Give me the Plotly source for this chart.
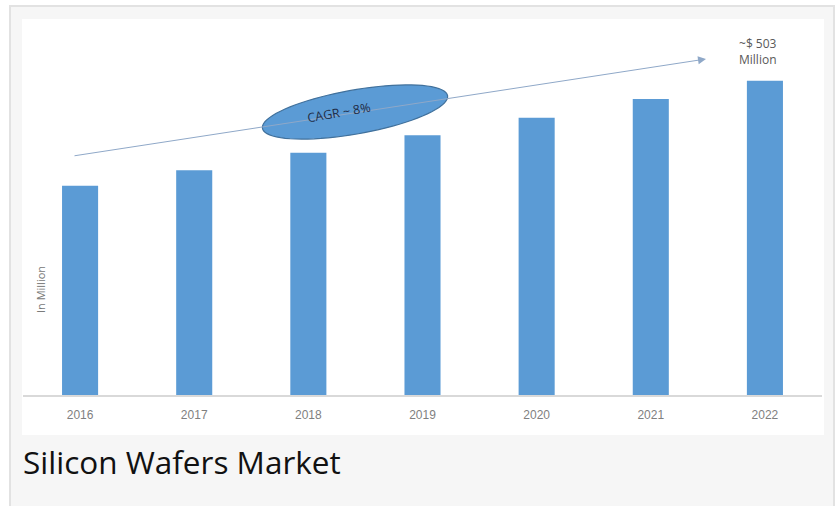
import numpy as np
import plotly.graph_objects as go

years = ["2016", "2017", "2018", "2019", "2020", "2021", "2022"]
values = [335, 360, 388, 416, 444, 474, 503]
y_title = "In Million"
caption = "Silicon Wafers Market"
cagr_label = "CAGR ~ 8%"
end_label = "~$ 503<br>Million"

W, H = 838, 506
ML, MR, MT, MB = 23, 16, 19, 111
PW, PH = W - ML - MR, H - MT - MB


def px(x):
    return (x - ML) / PW


def py(y):
    return (H - MB - y) / PH


fig = go.Figure()
fig.add_trace(go.Bar(x=years, y=values, marker=dict(color="#5b9bd5", line=dict(width=0)),
                     hoverinfo="x+y"))

shapes = []
# outer grey card
shapes.append(dict(type="rect", xref="paper", yref="paper", layer="below",
                   x0=px(10), x1=px(834), y0=py(512), y1=py(6),
                   fillcolor="#f6f6f6", line=dict(color="#e2e2e2", width=2)))
# inner white chart area
shapes.append(dict(type="rect", xref="paper", yref="paper", layer="below",
                   x0=px(22), x1=px(824), y0=py(435), y1=py(19),
                   fillcolor="#ffffff", line=dict(width=0)))

# rotated ellipse (pixel geometry converted to paper coords)
cx, cy, a, b, ang = 355, 112, 94, 22, np.deg2rad(-10)
t = np.linspace(0, 2 * np.pi, 80)
ex = cx + a * np.cos(t) * np.cos(ang) - b * np.sin(t) * np.sin(ang)
ey = cy + a * np.cos(t) * np.sin(ang) + b * np.sin(t) * np.cos(ang)
path = "M " + " L ".join(f"{px(x):.5f},{py(y):.5f}" for x, y in zip(ex, ey)) + " Z"

annotations = []
# arrow
annotations.append(dict(xref="paper", yref="paper", x=px(706), y=py(59),
                        axref="pixel", ayref="pixel", ax=73 - 706, ay=156 - 59,
                        showarrow=True, arrowhead=2, arrowsize=1.6, arrowwidth=1,
                        arrowcolor="#8fa8c8", text=""))
fig.update_layout(shapes=shapes)
fig.add_shape(type="path", path=path, xref="paper", yref="paper",
              fillcolor="#5b9bd5", line=dict(color="#41719c", width=1.2), layer="above")

annotations.append(dict(xref="paper", yref="paper", x=px(339), y=py(112), text=cagr_label,
                        showarrow=False, textangle=-10, xanchor="center", yanchor="middle",
                        font=dict(family="Open Sans", size=12.5, color="#1f2b45")))
annotations.append(dict(xref="paper", yref="paper", x=px(758), y=py(52), text=end_label,
                        showarrow=False, align="center", xanchor="center", yanchor="middle",
                        font=dict(family="Open Sans", size=12, color="#595959")))
annotations.append(dict(xref="paper", yref="paper", x=px(21), y=py(462), text=caption,
                        showarrow=False, xanchor="left", yanchor="middle",
                        font=dict(family="Open Sans", size=31.5, color="#111111")))
annotations.append(dict(xref="paper", yref="paper", x=px(40), y=py(290), text=y_title,
                        showarrow=False, textangle=-90, xanchor="center", yanchor="middle",
                        font=dict(family="Open Sans", size=11, color="#777777")))

fig.update_layout(
    width=W, height=H,
    margin=dict(l=ML, r=MR, t=MT, b=MB, pad=0),
    paper_bgcolor="#ffffff", plot_bgcolor="rgba(0,0,0,0)",
    bargap=0.684, showlegend=False,
    annotations=annotations,
    xaxis=dict(showgrid=False, showline=True, linecolor="#d9d9d9", linewidth=1.5,
               ticks="", tickfont=dict(family="Liberation Sans Narrow, Liberation Sans", size=12, color="#7f7f7f"),
               ticklabelstandoff=8, fixedrange=True),
    yaxis=dict(range=[0, 602], showgrid=False, showticklabels=False, zeroline=False,
               showline=False, fixedrange=True),
)

fig.write_html("out.html")
